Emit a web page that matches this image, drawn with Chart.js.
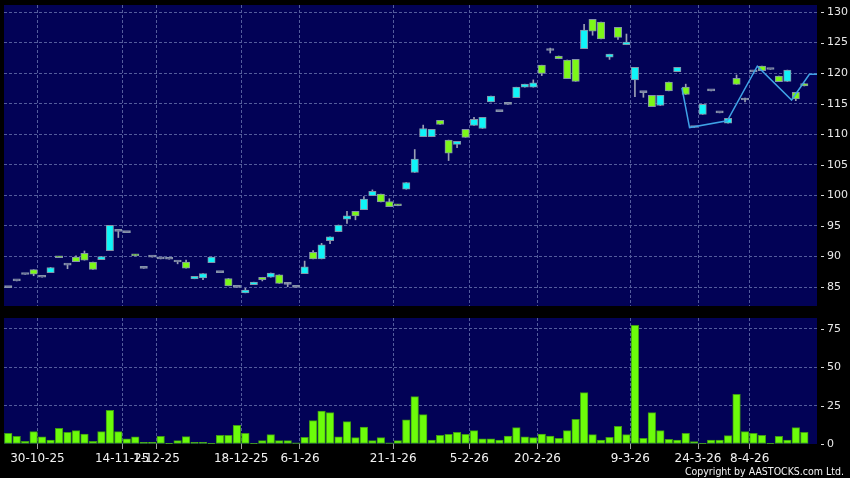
<!DOCTYPE html>
<html>
<head>
<meta charset="utf-8">
<script src="https://cdn.jsdelivr.net/npm/chart.js@4.4.0/dist/chart.umd.min.js"></script>
<style>
  html, body { margin:0; padding:0; background:#000; }
  #wrap { position:relative; width:850px; height:478px; overflow:hidden; background:#000; }
  #priceChart { position:absolute; left:0; top:0; }
  #volChart { position:absolute; left:0; top:310px; }
  #copy { position:absolute; right:6px; top:465px; color:#f4f4f4; font:10.5px 'DejaVu Sans Condensed', sans-serif; }
</style>
</head>
<body>
<div id="wrap">
  <canvas id="priceChart" width="850" height="310"></canvas>
  <canvas id="volChart" width="850" height="168"></canvas>
  <div id="copy">Copyright by AASTOCKS.com Ltd.</div>
</div>
<script>
// daily candles, one per trading day (index 0..94)
const openP = [84.9, 86.0, 87.05, 87.85, 86.6, 87.35, 90.0, 88.6, 89.9, 90.5,
  89.1, 89.5, 90.95, 94.1, 93.9, 90.3, 88.05, 89.9, 89.6, 89.55,
  89.1, 89.1, 86.35, 86.5, 89.0, 87.35, 86.4, 84.95, 84.05, 85.4,
  86.6, 86.6, 87.0, 85.45, 84.95, 87.2, 90.7, 89.6, 92.6, 94.05,
  96.1, 97.4, 97.65, 99.95, 100.2, 99.0, 98.5, 101.0, 103.75, 109.6,
  109.6, 112.3, 109.05, 108.35, 110.8, 111.45, 110.95, 115.3, 113.7, 114.9,
  116.0, 117.7, 117.7, 121.3, 123.7, 122.8, 122.15, 122.25, 124.0, 128.8,
  128.35, 122.6, 127.5, 124.65, 118.9, 116.8, 116.35, 114.7, 118.55, 120.25,
  117.7, 111.1, 113.25, 117.1, 113.5, 111.8, 119.15, 115.6, 120.2, 121.15,
  120.6, 119.5, 118.65, 116.85, 118.3];
const closeP = [84.9, 86.0, 87.05, 87.1, 86.6, 88.2, 89.8, 88.6, 89.15, 89.4,
  87.9, 90.0, 95.1, 94.1, 93.9, 90.1, 88.05, 89.9, 89.6, 89.55,
  89.1, 88.1, 86.75, 87.2, 89.9, 87.35, 85.2, 84.95, 84.5, 85.8,
  86.2, 87.3, 85.6, 85.45, 84.95, 88.3, 89.6, 91.9, 93.2, 95.15,
  96.65, 96.65, 99.4, 100.65, 98.95, 98.15, 98.3, 102.1, 105.95, 110.95,
  110.8, 111.6, 106.9, 108.85, 109.5, 112.45, 112.75, 116.25, 113.7, 114.9,
  117.7, 118.2, 118.4, 119.95, 123.7, 122.35, 119.1, 118.65, 127.05, 126.85,
  125.6, 123.1, 125.85, 125.1, 120.95, 116.8, 114.5, 116.35, 117.1, 120.95,
  116.5, 111.1, 114.9, 117.1, 113.5, 112.6, 118.15, 115.6, 120.2, 120.4,
  120.6, 118.6, 120.5, 115.8, 117.9];
const highP = [84.9, 86.0, 87.05, 87.85, 86.6, 88.2, 90.0, 88.6, 90.1, 90.9,
  89.1, 90.0, 95.1, 94.1, 93.9, 90.3, 88.05, 89.9, 89.6, 89.55,
  89.1, 89.4, 86.75, 87.2, 89.9, 87.35, 86.4, 84.95, 84.8, 85.8,
  86.6, 87.3, 87.0, 85.6, 84.95, 89.25, 90.95, 92.15, 93.2, 95.15,
  97.4, 97.4, 99.8, 100.9, 100.2, 99.45, 98.5, 102.1, 107.5, 111.5,
  110.8, 112.3, 109.05, 108.85, 110.8, 112.75, 112.75, 116.25, 113.7, 114.9,
  117.7, 118.2, 118.9, 121.3, 124.1, 122.8, 122.15, 122.25, 128.0, 128.8,
  128.35, 123.1, 127.5, 126.4, 120.95, 116.8, 116.35, 116.35, 118.55, 120.95,
  118.2, 111.1, 114.9, 117.1, 113.5, 112.6, 119.7, 115.9, 120.2, 121.15,
  120.6, 119.5, 120.5, 116.85, 118.3];
const lowP = [84.9, 86.0, 87.05, 86.85, 86.6, 87.35, 89.8, 88.0, 89.15, 89.4,
  87.9, 89.5, 90.95, 93.1, 93.9, 90.1, 88.05, 89.9, 89.6, 89.55,
  88.8, 88.1, 86.35, 86.2, 89.0, 87.35, 85.2, 84.95, 84.05, 85.4,
  86.0, 86.6, 85.6, 85.05, 84.95, 87.2, 89.6, 89.6, 92.1, 94.05,
  95.4, 96.0, 97.65, 99.95, 98.95, 98.15, 98.3, 101.0, 103.75, 109.6,
  109.6, 111.6, 105.7, 107.8, 109.5, 111.45, 110.95, 115.3, 113.7, 114.9,
  116.0, 117.7, 117.7, 119.6, 123.3, 122.35, 119.1, 118.65, 124.0, 126.2,
  125.6, 122.25, 125.5, 124.65, 116.15, 116.05, 114.5, 114.7, 117.1, 120.25,
  116.5, 111.1, 113.25, 117.1, 113.5, 111.8, 118.15, 115.3, 120.2, 120.4,
  120.6, 118.6, 118.65, 115.5, 117.9];
const volume = [7.0, 5.0, 1.8, 8.1, 4.6, 2.6, 10.2, 7.6, 8.7, 6.5,
  1.8, 8.1, 22.0, 8.1, 3.3, 4.6, 1.1, 1.1, 5.0, 0.5,
  2.2, 4.8, 1.1, 1.1, 0.5, 5.7, 5.7, 12.2, 7.0, 0.5,
  2.2, 6.1, 2.2, 2.2, 0.7, 4.4, 15.2, 21.5, 20.5, 4.6,
  14.6, 4.2, 11.1, 2.2, 4.2, 0.7, 2.2, 15.7, 30.9, 19.2,
  2.6, 5.7, 6.3, 7.6, 6.3, 8.7, 3.3, 3.3, 2.6, 5.2,
  10.7, 4.6, 4.2, 6.5, 5.1, 3.7, 8.7, 16.1, 33.5, 6.1,
  2.6, 4.4, 11.5, 6.1, 77.4, 3.7, 20.5, 8.7, 3.0, 2.6,
  7.0, 1.5, 0.5, 2.6, 2.6, 5.5, 32.4, 8.1, 7.0, 5.7,
  0.5, 5.0, 2.6, 10.7, 7.6];

// light blue indicator line (x in day-index units)
const lineX = [79.55, 80.45, 84.9, 88.45, 92.5, 94.6, 95.5];
const lineY = [117.6, 111.1, 112.2, 121.15, 115.6, 119.8, 119.8];

// date ticks
const tickPos = [3.45, 13.45, 17.5, 27.5, 34.45, 45.45, 54.45, 62.5, 73.45, 81.45, 87.55];
const tickLabels = ['30-10-25', '14-11-25', '1-12-25', '18-12-25', '6-1-26', '21-1-26', '5-2-26', '20-2-26', '9-3-26', '24-3-26', '8-4-26'];
const priceTicks = [85, 90, 95, 100, 105, 110, 115, 120, 125, 130];
const volTicks = [0, 25, 50, 75];

const NAVY = '#020256';
const GRID = '#535c9c';
const UP = '#10f4f8', DOWN = '#7cf818', FLAT = '#9a9ab4';

Chart.defaults.font.family = "'DejaVu Sans', sans-serif";

const panelBg = {
  id: 'panelBg',
  beforeDraw(chart) {
    const { ctx, chartArea: a } = chart;
    ctx.save();
    ctx.fillStyle = NAVY;
    ctx.fillRect(a.left, a.top, a.right - a.left, a.bottom - a.top);
    ctx.restore();
  }
};

// little "-" marks in front of the right-hand labels
const yDashes = {
  id: 'yDashes',
  afterDraw(chart) {
    const s = chart.scales.y, a = chart.chartArea, ctx = chart.ctx;
    ctx.save();
    ctx.strokeStyle = '#d8d8d8';
    ctx.lineWidth = 1;
    s.ticks.forEach(t => {
      const y = Math.round(s.getPixelForValue(t.value)) + 0.5;
      ctx.beginPath();
      ctx.moveTo(a.right + 4, y);
      ctx.lineTo(a.right + 7, y);
      ctx.stroke();
    });
    ctx.restore();
  }
};

function noPad(s) {
  s.paddingTop = 0; s.paddingBottom = 0; s.paddingLeft = 0; s.paddingRight = 0;
}

function xScale(showLabels) {
  return {
    type: 'linear', min: -0.5, max: 95.5, offset: false,
    afterBuildTicks: s => { s.ticks = tickPos.map(v => ({ value: v })); },
    afterFit: s => { s.height = showLabels ? 34 : 0; noPad(s); },
    grid: { offset: false, color: GRID, drawTicks: showLabels, tickLength: 5, tickColor: '#a0a0a0' },
    border: { display: false, dash: [3, 2] },
    ticks: {
      display: showLabels, autoSkip: false, maxRotation: 0, padding: 3,
      color: '#f2f2f2', font: { size: 12 },
      callback: (v, i) => tickLabels[i]
    }
  };
}

function yScale(min, max, ticks) {
  return {
    position: 'right', min, max,
    afterBuildTicks: s => { s.ticks = ticks.map(v => ({ value: v })); },
    afterFit: s => { s.width = 33; noPad(s); },
    grid: { color: c => c.tick && c.tick.value === 0 ? 'rgba(0,0,0,0)' : GRID, drawTicks: false },
    border: { display: false, dash: [3, 2] },
    ticks: { color: '#e8e8e8', padding: 10, font: { size: 11 } }
  };
}

const bodyColor = openP.map((o, i) => closeP[i] > o ? UP : (closeP[i] < o ? DOWN : FLAT));

new Chart(document.getElementById('priceChart'), {
  type: 'bar',
  data: {
    datasets: [
      {
        type: 'line', order: 0,
        data: lineX.map((x, i) => ({ x, y: lineY[i] })),
        borderColor: '#3fa2e6', borderWidth: 1.5, pointRadius: 0, tension: 0
      },
      {
        order: 1, grouped: false,
        data: openP.map((o, i) => ({ x: i, y: [o, closeP[i]] })),
        backgroundColor: bodyColor,
        borderColor: '#8494a8', borderWidth: 1, borderSkipped: false,
        barThickness: 7.4, minBarLength: 2
      },
      {
        order: 2, grouped: false,
        data: highP.map((h, i) => ({ x: i, y: [lowP[i], h] })),
        backgroundColor: '#9aa0b4', borderWidth: 0,
        barThickness: 1
      }
    ]
  },
  options: {
    responsive: false, animation: false, events: [],
    layout: { padding: { left: 4, top: 5, right: 0, bottom: 4 } },
    plugins: { legend: { display: false }, tooltip: { enabled: false } },
    scales: {
      x: xScale(false),
      y: yScale(81.9, 131.15, priceTicks)
    }
  },
  plugins: [panelBg, yDashes]
});

new Chart(document.getElementById('volChart'), {
  type: 'bar',
  data: {
    datasets: [{
      data: volume.map((v, i) => ({ x: i, y: v })),
      backgroundColor: '#6cfc0a', borderColor: '#3e9a14', borderWidth: 1, borderSkipped: false,
      barThickness: 7.6
    }]
  },
  options: {
    responsive: false, animation: false, events: [],
    layout: { padding: { left: 4, top: 8, right: 0, bottom: 0 } },
    plugins: { legend: { display: false }, tooltip: { enabled: false } },
    scales: {
      x: xScale(true),
      y: yScale(0, 82.17, volTicks)
    }
  },
  plugins: [panelBg, yDashes]
});
</script>
</body>
</html>
